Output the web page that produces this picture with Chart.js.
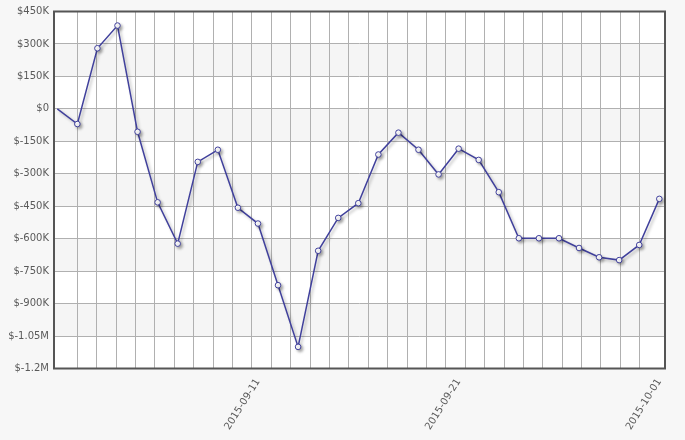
<!DOCTYPE html>
<html>
<head>
<meta charset="utf-8">
<script src="https://cdn.jsdelivr.net/npm/chart.js@4"></script>
<style>
  html, body { margin: 0; padding: 0; background: #f7f7f7; }
  canvas { display: block; }
</style>
</head>
<body>
<canvas id="balanceChart" width="685" height="440"></canvas>
<script>
const dates = [
  "2015-09-01","2015-09-02","2015-09-03","2015-09-04","2015-09-05","2015-09-06",
  "2015-09-07","2015-09-08","2015-09-09","2015-09-10","2015-09-11","2015-09-12",
  "2015-09-13","2015-09-14","2015-09-15","2015-09-16","2015-09-17","2015-09-18",
  "2015-09-19","2015-09-20","2015-09-21","2015-09-22","2015-09-23","2015-09-24",
  "2015-09-25","2015-09-26","2015-09-27","2015-09-28","2015-09-29","2015-09-30",
  "2015-10-01"
];

const balance = [
  0, -70000, 280000, 385000, -106000, -432000, -623000, -245000, -189000, -457000,
  -530000, -815000, -1100000, -656000, -504000, -436000, -211000, -110000, -189000, -303000,
  -184000, -236000, -385000, -598000, -598000, -598000, -643000, -686000, -699000, -629000,
  -416000
];

const xTickDates = ["2015-09-11", "2015-09-21", "2015-10-01"];
const yMin = -1200000, yMax = 450000, yStep = 150000;

function money(v) {
  if (v === 0) return "$0";
  const a = Math.abs(v), s = v < 0 ? "-" : "";
  if (a >= 1000000) return "$" + s + (a / 1000000) + "M";
  return "$" + s + (a / 1000) + "K";
}

// striped background + dark frame around plot area
const plotFrame = {
  id: "plotFrame",
  beforeDraw(chart) {
    const {ctx, chartArea: a, scales: {y}} = chart;
    ctx.save();
    ctx.fillStyle = "#ffffff";
    ctx.fillRect(a.left, a.top, a.right - a.left, a.bottom - a.top);
    ctx.fillStyle = "#f5f5f5";
    let band = 0;
    for (let v = yMax; v > yMin; v -= yStep, band++) {
      if (band % 2 === 1) {
        const t = y.getPixelForValue(v), b = y.getPixelForValue(v - yStep);
        ctx.fillRect(a.left, t, a.right - a.left, b - t);
      }
    }
    ctx.restore();
  },
  beforeDatasetsDraw(chart) {
    const {ctx, chartArea: a} = chart;
    ctx.save();
    ctx.strokeStyle = "#555555";
    ctx.lineWidth = 2;
    ctx.strokeRect(a.left, a.top, a.right - a.left, a.bottom - a.top);
    ctx.restore();
  },
  beforeDatasetDraw(chart) {
    const ctx = chart.ctx;
    ctx.save();
    ctx.shadowColor = "rgba(0,0,0,0.28)";
    ctx.shadowOffsetX = 2;
    ctx.shadowOffsetY = 2;
    ctx.shadowBlur = 3;
  },
  afterDatasetDraw(chart) {
    chart.ctx.restore();
  }
};

new Chart(document.getElementById("balanceChart"), {
  type: "line",
  data: {
    datasets: [{
      label: "Balance",
      data: balance.map((v, i) => ({x: i, y: v})),
      borderColor: "#40409c",
      borderWidth: 1.5,
      backgroundColor: "#ffffff",
      pointBackgroundColor: "#ffffff",
      pointBorderColor: "#40409c",
      pointBorderWidth: 1,
      pointRadius: balance.map((v, i) => i === 0 ? 0 : 2.8),
      tension: 0,
      fill: false
    }]
  },
  options: {
    responsive: false,
    animation: false,
    layout: { padding: { top: 11.5, right: 20, left: 0, bottom: 0 } },
    plugins: { legend: { display: false }, tooltip: { enabled: false } },
    scales: {
      x: {
        type: "linear",
        position: "bottom",
        min: -0.164,
        max: 30.284,
        afterBuildTicks(s) {
          s.ticks = xTickDates.map(d => ({value: dates.indexOf(d)}));
        },
        afterFit(s) { s.height = 71.5; },
        grid: { display: false, drawTicks: false },
        border: { display: false },
        ticks: {
          autoSkip: false,
          minRotation: 58,
          maxRotation: 58,
          padding: 8,
          color: "#5a5a5a",
          font: { family: "DejaVu Sans", size: 10 },
          callback: v => dates[v]
        }
      },
      xGrid: {
        type: "linear",
        position: "top",
        min: -1.2,
        max: 30.3,
        afterBuildTicks(s) {
          const t = [];
          for (let k = 0; k < dates.length - 1; k++) t.push({value: k});
          s.ticks = t;
        },
        afterFit(s) { s.height = 0; },
        grid: { color: "#b0b0b0", lineWidth: 1, drawTicks: false },
        border: { display: false },
        ticks: { display: false }
      },
      y: {
        min: yMin,
        max: yMax,
        afterFit(s) { s.width = 54; },
        grid: { color: "#b0b0b0", lineWidth: 1, drawTicks: false },
        border: { display: false },
        ticks: {
          stepSize: yStep,
          padding: 5,
          color: "#5a5a5a",
          font: { family: "DejaVu Sans", size: 10 },
          callback: v => money(v)
        }
      }
    }
  },
  plugins: [plotFrame]
});
</script>
</body>
</html>
